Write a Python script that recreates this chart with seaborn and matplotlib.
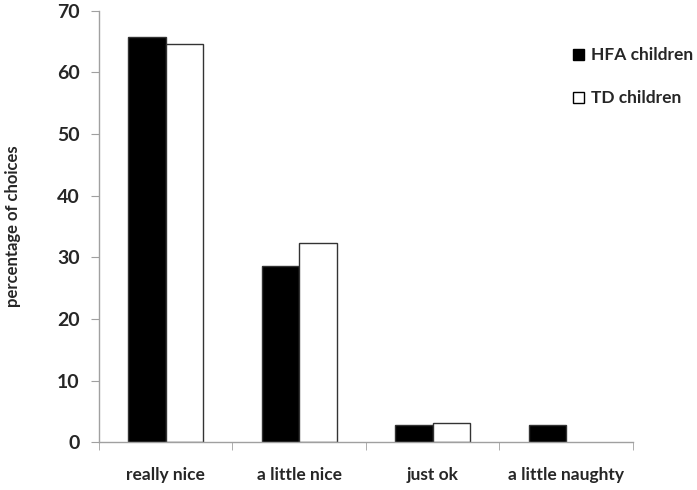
import matplotlib
matplotlib.use("Agg")
import pandas as pd
import matplotlib.pyplot as plt
import seaborn as sns

# ── Data ──────────────────────────────────────────────────────────────────────
categories = ['really nice', 'a little nice', 'just ok', 'a little naughty']
hfa_values = [65.8, 28.6, 2.9, 2.9]
td_values = [64.6, 32.3, 3.2, 0.0]
groups = ['HFA children', 'TD children']

data = pd.DataFrame({
    'choice': categories * 2,
    'pct': hfa_values + td_values,
    'group': [groups[0]] * len(categories) + [groups[1]] * len(categories),
})

sns.set_style("white")
plt.rcParams['font.family'] = ['Lato', 'DejaVu Sans']
plt.rcParams['font.weight'] = 'bold'

fig, ax = plt.subplots(figsize=(6.97, 4.90), dpi=100)
fig.subplots_adjust(left=0.142, right=0.908, bottom=0.097, top=0.978)

sns.barplot(data=data, x='choice', y='pct', hue='group', order=categories,
            hue_order=groups, palette=['black', 'white'], width=0.56,
            edgecolor='#333333', linewidth=1.0, ax=ax, legend=False)

# zero-height bars leave a stray outline on the axis; hide them
for p in ax.patches:
    if p.get_height() == 0:
        p.set_visible(False)

ax.set_ylim(0, 70)
ax.set_xlim(-0.5, len(categories) - 0.5)
ax.set_yticks(range(0, 71, 10))
ax.set_xlabel('')
ax.set_ylabel('percentage of choices', fontsize=12, fontweight='bold', labelpad=26)

# spines / ticks like the original office-style chart
sns.despine(ax=ax)
for side in ['left', 'bottom']:
    ax.spines[side].set_color('#a0a0a0')
    ax.spines[side].set_linewidth(1.0)
ax.tick_params(axis='y', length=6, color='#a0a0a0', labelsize=14, pad=8, left=True)
ax.tick_params(axis='x', which='major', length=0, labelsize=12.5, pad=18)
ax.set_xticks([i - 0.5 for i in range(len(categories) + 1)], minor=True)
ax.tick_params(axis='x', which='minor', length=6, color='#a0a0a0', bottom=True)
for lbl in ax.get_yticklabels() + ax.get_xticklabels():
    lbl.set_fontweight('bold')

# legend
handles = [plt.Rectangle((0, 0), 1, 1, facecolor='black', edgecolor='black'),
           plt.Rectangle((0, 0), 1, 1, facecolor='white', edgecolor='black')]
fig.legend(handles, groups, loc='upper left', bbox_to_anchor=(0.80, 0.935),
           frameon=False, handlelength=0.6, handleheight=0.6, handletextpad=0.4,
           labelspacing=1.55, prop={'size': 12.5, 'weight': 'bold'})

fig.savefig('out.png', dpi=100)
plt.close(fig)
